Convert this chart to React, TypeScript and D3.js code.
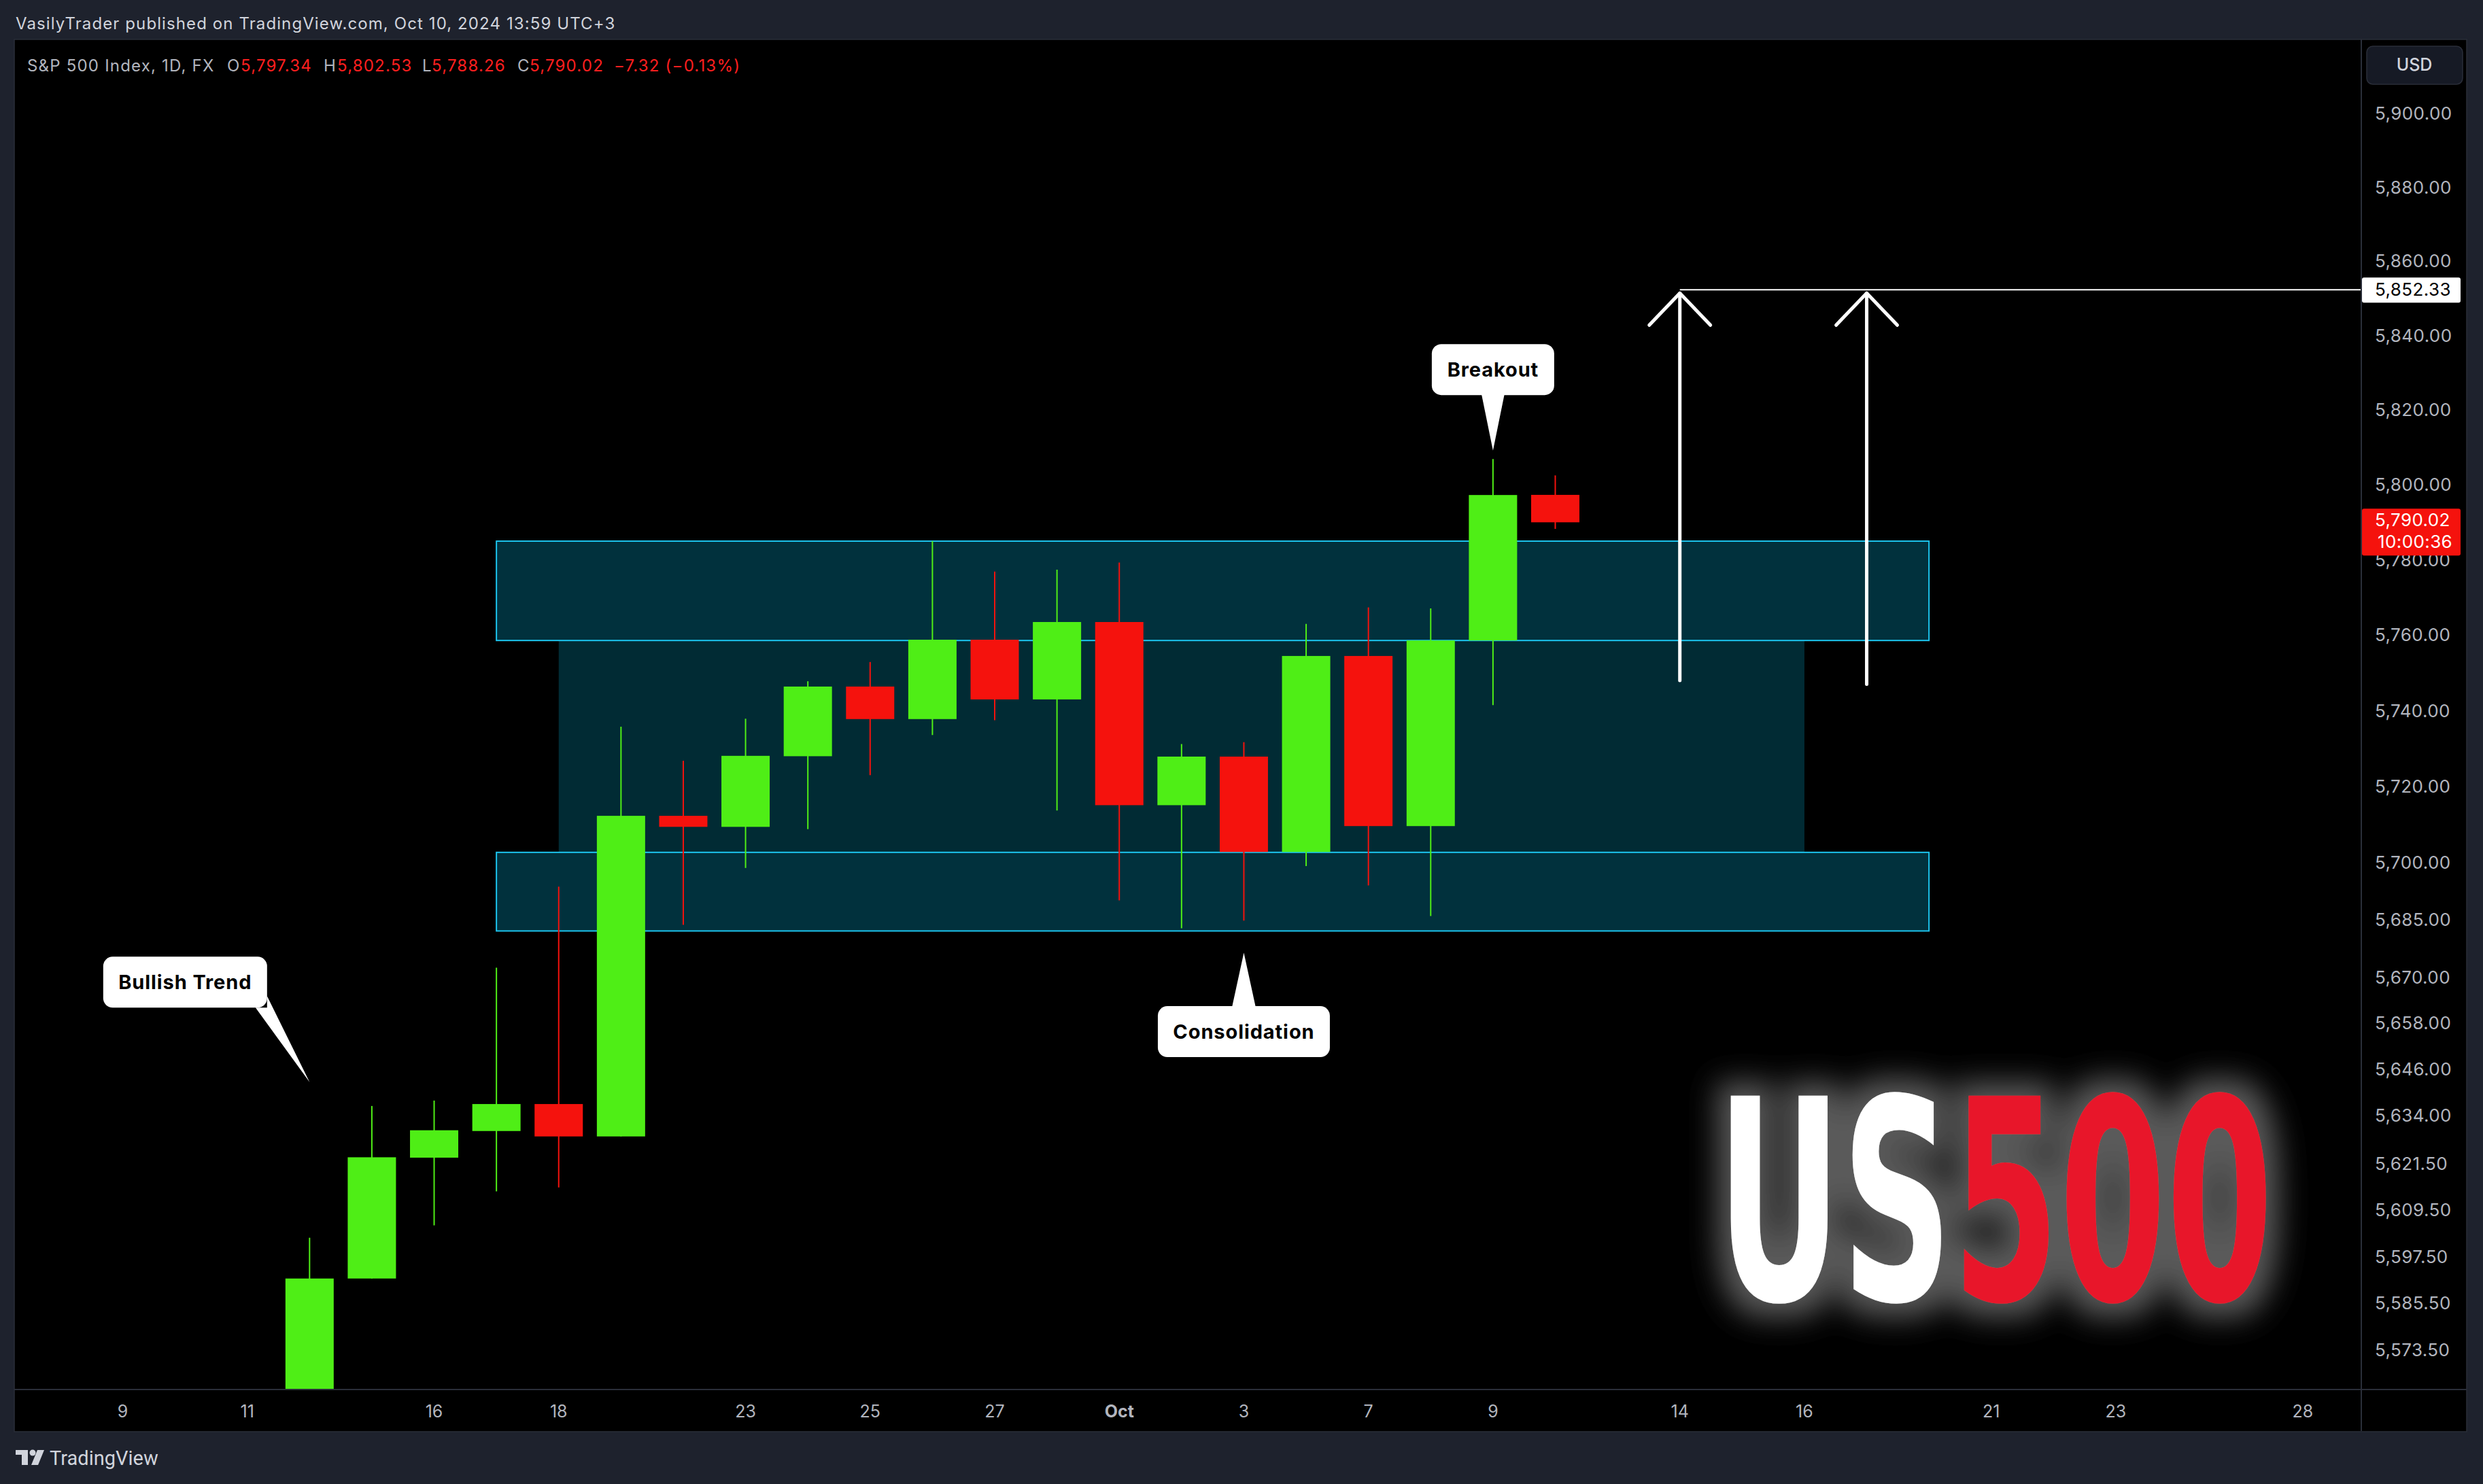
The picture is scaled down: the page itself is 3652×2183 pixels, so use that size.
import React from "react";
import * as d3 from "d3";

// trading sessions shown on the time axis (Sep 9 .. Oct 28, 2024)
const sessions = [
  "2024-09-09", "2024-09-10", "2024-09-11", "2024-09-12", "2024-09-13",
  "2024-09-16", "2024-09-17", "2024-09-18", "2024-09-19", "2024-09-20",
  "2024-09-23", "2024-09-24", "2024-09-25", "2024-09-26", "2024-09-27",
  "2024-09-30", "2024-10-01", "2024-10-02", "2024-10-03", "2024-10-04",
  "2024-10-07", "2024-10-08", "2024-10-09", "2024-10-10", "2024-10-11",
  "2024-10-14", "2024-10-15", "2024-10-16", "2024-10-17", "2024-10-18",
  "2024-10-21", "2024-10-22", "2024-10-23", "2024-10-24", "2024-10-25",
  "2024-10-28",
];

const candleDates = [
  "2024-09-12", "2024-09-13", "2024-09-16", "2024-09-17", "2024-09-18",
  "2024-09-19", "2024-09-20", "2024-09-23", "2024-09-24", "2024-09-25",
  "2024-09-26", "2024-09-27", "2024-09-30", "2024-10-01", "2024-10-02",
  "2024-10-03", "2024-10-04", "2024-10-07", "2024-10-08", "2024-10-09",
  "2024-10-10",
];
const opens = [
  5556.0, 5591.9, 5623.1, 5630.0, 5637.0, 5628.6, 5712.3, 5709.4, 5728.0, 5746.4,
  5737.8, 5758.8, 5743.0, 5763.5, 5715.1, 5727.9, 5702.8, 5754.5, 5709.6, 5758.6,
  5797.34,
];
const highs = [
  5602.4, 5636.5, 5637.9, 5672.5, 5693.7, 5735.8, 5726.8, 5737.9, 5747.8, 5752.9,
  5785.0, 5776.9, 5777.4, 5779.3, 5731.2, 5731.7, 5763.0, 5767.4, 5767.1, 5806.9,
  5802.53,
];
const lows = [
  5548.0, 5591.9, 5605.6, 5614.4, 5615.4, 5628.6, 5683.7, 5698.6, 5708.8, 5723.0,
  5733.6, 5737.5, 5713.7, 5690.1, 5682.8, 5684.8, 5699.1, 5694.0, 5686.0, 5741.5,
  5788.26,
];
const closes = [
  5591.9, 5623.2, 5630.2, 5637.0, 5628.6, 5712.3, 5709.4, 5728.1, 5746.4, 5737.8,
  5758.8, 5743.0, 5763.5, 5715.1, 5727.9, 5702.8, 5754.5, 5709.6, 5758.6, 5797.3,
  5790.02,
];

const priceTicks = [
  5900, 5880, 5860, 5840, 5820, 5800, 5780, 5760, 5740, 5720, 5700, 5685, 5670,
  5658, 5646, 5634, 5621.5, 5609.5, 5597.5, 5585.5, 5573.5,
];
const timeTicks = [
  "2024-09-09", "2024-09-11", "2024-09-16", "2024-09-18", "2024-09-23",
  "2024-09-25", "2024-09-27", "2024-10-01", "2024-10-03", "2024-10-07",
  "2024-10-09", "2024-10-14", "2024-10-16", "2024-10-21", "2024-10-23",
  "2024-10-28",
];

// drawings
const zoneBands = [
  { from: "2024-09-17", to: "2024-10-18", low: 5758.6, high: 5785.0 },
  { from: "2024-09-17", to: "2024-10-18", low: 5682.1, high: 5702.7 },
];
const rangeFill = { from: "2024-09-18", to: "2024-10-16", low: 5702.7, high: 5758.6 };
const arrowDates = ["2024-10-14", "2024-10-17"];
const arrowBases = [5748.0, 5747.0];
const targetPrice = 5852.33;
const lastPrice = 5790.02;

const notes = [
  { text: "Bullish Trend", date: "2024-09-12", price: 5642.7, dx: -183, dy: -147, w: 241, tail: "corner" },
  { text: "Consolidation", date: "2024-10-03", price: 5676.4, dx: 0, dy: 116, w: 253, tail: "top" },
  { text: "Breakout", date: "2024-10-09", price: 5809.2, dx: 0, dy: -119, w: 180, tail: "bottom" },
];

const W = 3652;
const H = 2183;
const plot = { left: 22, top: 59, right: 3472, bottom: 2043 };
const GREEN = "#4fee16";
const RED = "#f5120d";
const AXIS_TEXT = "#b2b5be";
const FONT = "Inter, Roboto, sans-serif";

const idx = (d: string) => sessions.indexOf(d);
const fmt = d3.format(",.2f");

const App: React.FC = () => {
  const x = d3.scaleLinear().domain([-1.73, 35.93]).range([plot.left, plot.right]);
  const y = d3.scaleLog().domain([5563.57, 5920.0]).range([plot.bottom, plot.top]);
  const step = x(1) - x(0);
  const bodyW = step * 0.775;

  const candles = candleDates.map((d, i) => ({
    d,
    o: opens[i],
    h: highs[i],
    l: lows[i],
    c: closes[i],
  }));

  const noteH = 75;
  const lastO = opens[opens.length - 1];
  const lastC = closes[closes.length - 1];

  return (
    <div style={{ position: "absolute", left: 0, top: 0 }}>
      <svg width={W} height={H} style={{ display: "block", background: "#1e222d" }}>
        <defs>
          <clipPath id="plotClip">
            <rect x={plot.left} y={plot.top} width={plot.right - plot.left} height={plot.bottom - plot.top} />
          </clipPath>
          <filter id="glow" x="-20%" y="-40%" width="140%" height="180%">
            <feMorphology in="SourceAlpha" operator="dilate" radius="20" result="d" />
            <feGaussianBlur in="d" stdDeviation="22" result="b" />
            <feFlood floodColor="#5a5a5a" />
            <feComposite in2="b" operator="in" result="g" />
            <feMerge>
              <feMergeNode in="g" />
              <feMergeNode in="SourceGraphic" />
            </feMerge>
          </filter>
        </defs>

        {/* header */}
        <text x={23} y={43} fill="#d1d4dc" fontFamily={FONT} fontSize={24} letterSpacing={1.1}>
          VasilyTrader published on TradingView.com, Oct 10, 2024 13:59 UTC+3
        </text>

        {/* pane */}
        <rect x={21} y={58} width={3607} height={2048} fill="#000" stroke="#2a2e39" strokeWidth={1.5} />
        <line x1={plot.right + 1} x2={plot.right + 1} y1={58} y2={2105} stroke="#2a2e39" strokeWidth={2} />
        <line x1={21} x2={3628} y1={plot.bottom + 1} y2={plot.bottom + 1} stroke="#2a2e39" strokeWidth={2} />

        <g clipPath="url(#plotClip)">
          {/* consolidation range */}
          <rect
            x={x(idx(rangeFill.from))}
            y={y(rangeFill.high)}
            width={x(idx(rangeFill.to)) - x(idx(rangeFill.from))}
            height={y(rangeFill.low) - y(rangeFill.high)}
            fill="#012b34"
          />
          {zoneBands.map((z, i) => (
            <rect
              key={i}
              x={x(idx(z.from))}
              y={y(z.high)}
              width={x(idx(z.to)) - x(idx(z.from))}
              height={y(z.low) - y(z.high)}
              fill="#01313d"
              stroke="#1cc4ee"
              strokeWidth={2}
            />
          ))}

          {/* candles */}
          {candles.map((k) => {
            const cx = x(idx(k.d));
            const col = k.c >= k.o ? GREEN : RED;
            const top = y(Math.max(k.o, k.c));
            const bot = y(Math.min(k.o, k.c));
            return (
              <g key={k.d}>
                <line x1={cx} x2={cx} y1={y(k.h)} y2={y(k.l)} stroke={col} strokeWidth={2} />
                <rect x={cx - bodyW / 2} y={top} width={bodyW} height={Math.max(bot - top, 1)} fill={col} />
              </g>
            );
          })}

          {/* target line */}
          <line
            x1={x(idx(arrowDates[0]))}
            x2={plot.right}
            y1={y(targetPrice)}
            y2={y(targetPrice)}
            stroke="#fff"
            strokeWidth={2}
          />

          {/* arrows */}
          {arrowDates.map((d, i) => {
            const ax = x(idx(d));
            const ty = y(targetPrice) + 5;
            const by = y(arrowBases[i]);
            return (
              <g key={d} stroke="#fff" strokeWidth={5} strokeLinecap="round" strokeLinejoin="round" fill="none">
                <line x1={ax} x2={ax} y1={ty} y2={by} />
                <polyline points={`${ax - 45},${ty + 47} ${ax},${ty} ${ax + 45},${ty + 47}`} />
              </g>
            );
          })}

          {/* callouts */}
          {notes.map((n) => {
            const tx = x(idx(n.date));
            const ty = y(n.price);
            const cx = tx + n.dx;
            const cy = ty + n.dy;
            const x0 = cx - n.w / 2;
            const x1 = cx + n.w / 2;
            const y0 = cy - noteH / 2;
            const y1 = cy + noteH / 2;
            let tail = "";
            if (n.tail === "corner") tail = `${x1},${y1 - 17} ${tx},${ty} ${x1 - 17},${y1} ${x1},${y1}`;
            else if (n.tail === "top") tail = `${cx - 17.5},${y0 + 2} ${tx},${ty} ${cx + 17.5},${y0 + 2}`;
            else tail = `${cx - 17},${y1 - 2} ${tx},${ty} ${cx + 17},${y1 - 2}`;
            return (
              <g key={n.text}>
                <rect x={x0} y={y0} width={n.w} height={noteH} rx={14} fill="#fff" />
                <polygon points={tail} fill="#fff" />
                <text
                  x={cx}
                  y={cy + 10}
                  textAnchor="middle"
                  fontFamily={FONT}
                  fontWeight={700}
                  fontSize={29}
                  letterSpacing={0.9}
                  fill="#000"
                >
                  {n.text}
                </text>
              </g>
            );
          })}
        </g>

        {/* US500 badge */}
        <g filter="url(#glow)">
          <text
            transform="translate(2525,1912) scale(0.61,1)"
            fontFamily="'Liberation Sans Narrow', 'DejaVu Sans Condensed', sans-serif"
            fontWeight={700}
            fontSize={412}
          >
            <tspan fill="#ffffff">US</tspan>
            <tspan fill="#e8192c">500</tspan>
          </text>
        </g>

        {/* legend */}
        <g fontFamily={FONT} fontSize={24} letterSpacing={1.2}>
          <text x={40} y={105} fill={AXIS_TEXT}>S&amp;P 500 Index, 1D, FX</text>
          <text x={334} y={105} fill={AXIS_TEXT}>O</text>
          <text x={354} y={105} fill="#ff1f1f">{fmt(lastO)}</text>
          <text x={476} y={105} fill={AXIS_TEXT}>H</text>
          <text x={496} y={105} fill="#ff1f1f">{fmt(highs[highs.length - 1])}</text>
          <text x={621} y={105} fill={AXIS_TEXT}>L</text>
          <text x={635} y={105} fill="#ff1f1f">{fmt(lows[lows.length - 1])}</text>
          <text x={761} y={105} fill={AXIS_TEXT}>C</text>
          <text x={779} y={105} fill="#ff1f1f">{fmt(lastC)}</text>
          <text x={903} y={105} fill="#ff1f1f">
            {`\u2212${(lastO - lastC).toFixed(2)} (\u2212${(((lastO - lastC) / lastO) * 100).toFixed(2)}%)`}
          </text>
        </g>

        {/* price axis */}
        <rect x={3481} y={68} width={141} height={56} rx={9} fill="#161a25" stroke="#2a2e39" strokeWidth={1.5} />
        <text x={3551} y={104} textAnchor="middle" fill="#d1d4dc" fontFamily={FONT} fontSize={25} fontWeight={500}>
          USD
        </text>
        <g fontFamily={FONT} fontSize={26} fill={AXIS_TEXT} letterSpacing={0.4}>
          {priceTicks.map((p) => (
            <text key={p} x={3493} y={y(p) + 9}>
              {fmt(p)}
            </text>
          ))}
        </g>
        <g fontFamily={FONT} fontSize={26} letterSpacing={0.4}>
          <rect x={3474} y={y(targetPrice) - 18} width={145} height={37} rx={3} fill="#fff" />
          <text x={3493} y={y(targetPrice) + 9} fill="#000">
            {fmt(targetPrice)}
          </text>
          <rect x={3474} y={y(lastPrice) - 20} width={145} height={69} rx={3} fill={RED} />
          <text x={3493} y={y(lastPrice) + 6} fill="#fff">
            {fmt(lastPrice)}
          </text>
          <text x={3497} y={y(lastPrice) + 38} fill="#fff">
            10:00:36
          </text>
        </g>

        {/* time axis */}
        <g fontFamily={FONT} fontSize={25} fill={AXIS_TEXT} textAnchor="middle">
          {timeTicks.map((d) => {
            const dt = new Date(d + "T00:00:00");
            const first = dt.getDate() === 1;
            return (
              <text key={d} x={x(idx(d))} y={2085} fontWeight={first ? 700 : 400}>
                {first ? d3.timeFormat("%b")(dt) : String(dt.getDate())}
              </text>
            );
          })}
        </g>

        {/* footer logo */}
        <g fill="#d1d4dc">
          <path d="M23,2133 H41 V2155 H32 V2140 H23 Z" />
          <circle cx={48} cy={2137} r={4.5} />
          <path d="M55,2133 H65 L56,2155 H46 Z" />
          <text x={73} y={2155} fontFamily="Roboto, sans-serif" fontSize={29}>
            TradingView
          </text>
        </g>
      </svg>
    </div>
  );
};

export default App;
